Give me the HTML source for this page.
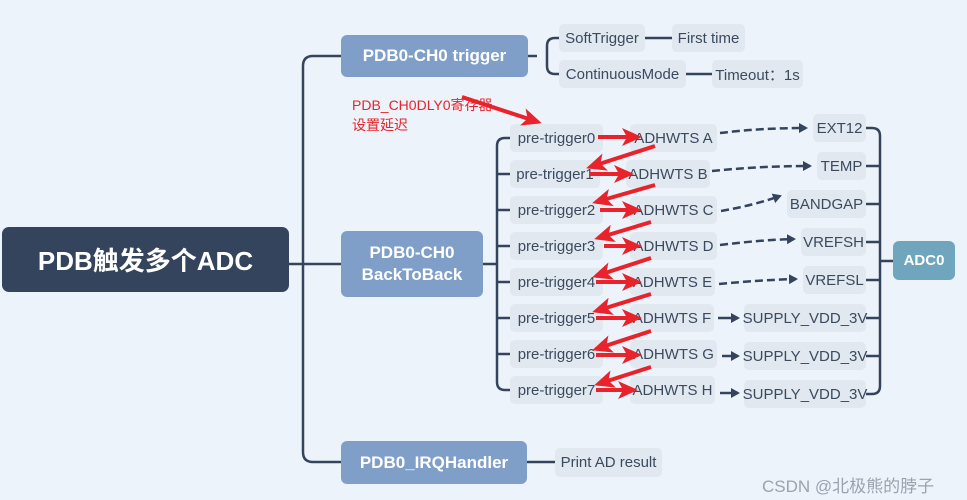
<!DOCTYPE html>
<html><head><meta charset="utf-8"><style>
body{margin:0;width:967px;height:500px;background:#edf3fa;position:relative;overflow:hidden;font-family:"Liberation Sans","Noto Sans CJK SC",sans-serif}
.n{position:absolute;background:#e1e8f0;color:#3a4a5f;font-size:15px;border-radius:5px;display:flex;align-items:center;justify-content:center;height:28px;white-space:nowrap}
.m{position:absolute;background:#7f9fc9;color:#fff;font-weight:bold;font-size:17px;border-radius:6px;display:flex;align-items:center;justify-content:center;text-align:center;line-height:22px}
svg{position:absolute;left:0;top:0}
</style></head><body>
<svg width="967" height="500">
<defs>
<marker id="ad" markerWidth="9" markerHeight="10" refX="7" refY="5" orient="auto" markerUnits="userSpaceOnUse"><path d="M0,0 L9,5 L0,10z" fill="#33445c"/></marker>
</defs>
<g fill="none" stroke="#33445c" stroke-width="2.5">
<path d="M289,264 H303"/>
<path d="M341,56 H313 Q303,56 303,66 V452 Q303,462 313,462 H341"/>
<path d="M303,264 H341"/>
<path d="M528,56 H537"/>
<path d="M559,38 H555 Q547,38 547,46 V66 Q547,74 555,74 H559"/>
<path d="M645,38 H672 M686,74 H712"/>
<path d="M527,462 H555"/>
<path d="M483,264 H497"/>
<path d="M510,138 H505 Q497,138 497,146 V382 Q497,390 505,390 H510"/>
<path d="M497,174 H510 M497,210 H510 M497,246 H510 M497,282 H510 M497,318 H510 M497,354 H510"/>
<path d="M866,128 H872 Q880,128 880,136 V386 Q880,394 872,394 H866"/>
<path d="M866,166 H880 M866,204 H880 M866,242 H880 M866,280 H880 M866,318 H880 M866,356 H880 M880,261 H893"/>
</g>
<g fill="none" stroke="#33445c" stroke-width="2.5" stroke-dasharray="8,4">
<path d="M720,133 Q760,128 806,128" marker-end="url(#ad)"/>
<path d="M712,171 Q760,166 810,166" marker-end="url(#ad)"/>
<path d="M721,211 Q755,205 780,196" marker-end="url(#ad)"/>
<path d="M720,245 Q760,240 794,239" marker-end="url(#ad)"/>
<path d="M719,284 Q760,280 796,279" marker-end="url(#ad)"/>
</g>
<g fill="none" stroke="#33445c" stroke-width="2.5">
<path d="M718,318 H738" marker-end="url(#ad)"/>
<path d="M722,356 H738" marker-end="url(#ad)"/>
<path d="M720,393 H738" marker-end="url(#ad)"/>
</g>
</svg>
<div style="position:absolute;left:2px;top:227px;width:287px;height:65px;background:#33445c;border-radius:7px;color:#fff;font-weight:bold;font-size:26px;display:flex;align-items:center;justify-content:center">PDB触发多个ADC</div>
<div class="m" style="left:341px;top:35px;width:187px;height:42px">PDB0-CH0 trigger</div>
<div class="m" style="left:341px;top:231px;width:142px;height:66px">PDB0-CH0<br>BackToBack</div>
<div class="m" style="left:341px;top:441px;width:186px;height:43px">PDB0_IRQHandler</div>
<div class="m" style="left:893px;top:241px;width:62px;height:39px;background:#6fa6bd;font-size:15px">ADC0</div>
<div class="n" style="left:559px;top:24px;width:86px">SoftTrigger</div>
<div class="n" style="left:672px;top:24px;width:73px">First time</div>
<div class="n" style="left:559px;top:60px;width:127px">ContinuousMode</div>
<div class="n" style="left:712px;top:60px;width:91px">Timeout：1s</div>
<div class="n" style="left:555px;top:448px;width:107px;height:29px">Print AD result</div>
<div style="position:absolute;left:352px;top:95px;color:#e8232b;font-size:14px;line-height:20px">PDB_CH0DLY0寄存器<br>设置延迟</div>
<div class="n" style="left:510px;top:124px;width:93px">pre-trigger0</div>
<div class="n" style="left:510px;top:160px;width:90px">pre-trigger1</div>
<div class="n" style="left:510px;top:196px;width:93px">pre-trigger2</div>
<div class="n" style="left:510px;top:232px;width:93px">pre-trigger3</div>
<div class="n" style="left:510px;top:268px;width:93px">pre-trigger4</div>
<div class="n" style="left:510px;top:304px;width:93px">pre-trigger5</div>
<div class="n" style="left:510px;top:340px;width:93px">pre-trigger6</div>
<div class="n" style="left:510px;top:376px;width:93px">pre-trigger7</div>
<div class="n" style="left:630px;top:124px;width:87px">ADHWTS A</div>
<div class="n" style="left:626px;top:160px;width:84px">ADHWTS B</div>
<div class="n" style="left:630px;top:196px;width:87px">ADHWTS C</div>
<div class="n" style="left:630px;top:232px;width:87px">ADHWTS D</div>
<div class="n" style="left:630px;top:268px;width:85px">ADHWTS E</div>
<div class="n" style="left:630px;top:304px;width:84px">ADHWTS F</div>
<div class="n" style="left:630px;top:340px;width:87px">ADHWTS G</div>
<div class="n" style="left:630px;top:376px;width:85px">ADHWTS H</div>
<div class="n" style="left:813px;top:114px;width:53px">EXT12</div>
<div class="n" style="left:817px;top:152px;width:49px">TEMP</div>
<div class="n" style="left:787px;top:190px;width:79px">BANDGAP</div>
<div class="n" style="left:801px;top:228px;width:65px">VREFSH</div>
<div class="n" style="left:803px;top:266px;width:63px">VREFSL</div>
<div class="n" style="left:744px;top:304px;width:122px">SUPPLY_VDD_3V</div>
<div class="n" style="left:744px;top:342px;width:122px">SUPPLY_VDD_3V</div>
<div class="n" style="left:744px;top:380px;width:122px">SUPPLY_VDD_3V</div>
<div style="position:absolute;left:762px;top:472px;color:#9aa3ad;font-size:17px">CSDN @北极熊的脖子</div>
<svg width="967" height="500">
<defs>
<marker id="ar" markerWidth="20" markerHeight="18" refX="16" refY="9" orient="auto" markerUnits="userSpaceOnUse"><path d="M0,0 L20,9 L0,18 L5,9z" fill="#e8232b"/></marker>
</defs>
<g fill="none" stroke="#e8232b" stroke-width="4">
<path d="M462,97 L538,122" marker-end="url(#ar)"/>
<path d="M598,137 L638,137" marker-end="url(#ar)"/>
<path d="M655,146 L590,167" marker-end="url(#ar)"/>
<path d="M590,174 L630,174" marker-end="url(#ar)"/>
<path d="M655,185 L596,202" marker-end="url(#ar)"/>
<path d="M600,210 L638,210" marker-end="url(#ar)"/>
<path d="M651,222 L598,238" marker-end="url(#ar)"/>
<path d="M604,246 L638,246" marker-end="url(#ar)"/>
<path d="M651,258 L596,276" marker-end="url(#ar)"/>
<path d="M596,282 L638,282" marker-end="url(#ar)"/>
<path d="M651,294 L596,311" marker-end="url(#ar)"/>
<path d="M596,318 L638,318" marker-end="url(#ar)"/>
<path d="M651,331 L596,349" marker-end="url(#ar)"/>
<path d="M596,355 L638,355" marker-end="url(#ar)"/>
<path d="M651,367 L598,384" marker-end="url(#ar)"/>
<path d="M596,390 L634,390" marker-end="url(#ar)"/>
</g>
</svg>
</body></html>
